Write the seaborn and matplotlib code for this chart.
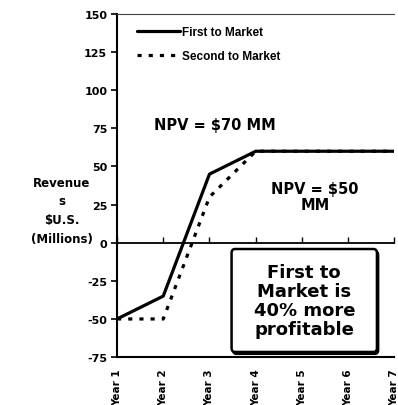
import matplotlib
matplotlib.use("Agg")
import matplotlib.pyplot as plt
from matplotlib.patches import FancyBboxPatch
import pandas as pd
import seaborn as sns

# Revenue path per year ($U.S. millions)
years = ["Year 1", "Year 2", "Year 3", "Year 4", "Year 5", "Year 6", "Year 7"]
first_to_market = [-50, -35, 45, 60, 60, 60, 60]
second_to_market = [-50, -50, 30, 60, 60, 60, 60]
series_names = ["First to Market", "Second to Market"]
y_ticks = [150, 125, 100, 75, 50, 25, 0, -25, -50, -75]
y_title_lines = ["Revenue", "s", "$U.S.", "(Millions)"]

df = pd.DataFrame({
    "Year": years * 2,
    "Revenue": first_to_market + second_to_market,
    "Series": [series_names[0]] * len(years) + [series_names[1]] * len(years),
})

sns.set_theme(style="white")
plt.rcParams["font.family"] = ["DejaVu Sans"]
plt.rcParams["text.color"] = "black"
plt.rcParams["xtick.color"] = "black"
plt.rcParams["ytick.color"] = "black"
plt.rcParams["axes.labelcolor"] = "black"

fig = plt.figure(figsize=(3.98, 4.06), dpi=100)
ax = fig.add_axes([0.294, 0.118, 0.697, 0.845])

sns.lineplot(
    data=df, x="Year", y="Revenue", hue="Series", style="Series",
    palette={series_names[0]: "black", series_names[1]: "black"},
    dashes={series_names[0]: "", series_names[1]: (1.3, 2.2)},
    linewidth=2.3, legend=False, ax=ax, sort=False,
)

ax.set_xlim(0, len(years) - 1)
ax.set_ylim(-75, 150)
ax.set_xlabel("")
ax.set_ylabel("")

# y axis
ax.set_yticks(y_ticks)
ax.set_yticklabels([str(v) for v in y_ticks], fontweight="bold", fontsize=8,
                   color="black")
ax.tick_params(axis="y", direction="out", length=4, width=1.2, pad=3,
               left=True, colors="black")

# category axis crossing at zero, ticks pointing up
ax.spines["bottom"].set_position(("data", 0))
ax.spines["bottom"].set_linewidth(1.3)
ax.spines["left"].set_linewidth(1.5)
ax.spines["right"].set_visible(False)
ax.spines["top"].set_linewidth(0.8)
ax.spines["top"].set_color("#444444")
for s in ["bottom", "left"]:
    ax.spines[s].set_color("black")
ax.set_xticks(range(len(years)))
ax.tick_params(axis="x", direction="in", length=4, width=1.0,
               bottom=True, labelbottom=False, colors="black")

# year labels along the bottom edge
sec = ax.secondary_xaxis(0.0)
sec.set_xticks(range(len(years)))
sec.set_xticklabels(years, rotation=90, fontweight="bold", fontsize=7.5,
                    va="top", ha="center", color="black")
sec.tick_params(axis="x", length=0, pad=8, colors="black")
sec.spines["bottom"].set_linewidth(1.5)
sec.spines["bottom"].set_color("black")

# legend
handles = ax.get_lines()[:2]
leg = ax.legend(handles, series_names, loc="upper left",
                bbox_to_anchor=(0.035, 0.995), frameon=False,
                handlelength=3.6, handletextpad=0.2, labelspacing=1.0,
                labelcolor="black",
                prop={"family": "Liberation Sans", "weight": "bold", "size": 8.5})

# axis title, one line at a time
for line, ypos in zip(y_title_lines, [0.510, 0.455, 0.401, 0.345]):
    ax.text(-0.2, ypos, line, transform=ax.transAxes,
            ha="center", va="center", fontsize=8.5, fontweight="bold",
            color="black")

# NPV annotations
ax.text(0.352, 0.679, "NPV = $70 MM", transform=ax.transAxes,
        ha="center", va="center", fontsize=10.5, fontweight="bold", color="black")
ax.text(0.714, 0.469, "NPV = $50\nMM", transform=ax.transAxes,
        ha="center", va="center", fontsize=10.5, fontweight="bold",
        linespacing=1.1, color="black")

# callout box
shadow = FancyBboxPatch((0.418, 0.009), 0.524, 0.30,
                        boxstyle="round,pad=0,rounding_size=0.012",
                        transform=ax.transAxes, fc="black", ec="black",
                        lw=1.5, zorder=5)
box = FancyBboxPatch((0.413, 0.015), 0.524, 0.30,
                     boxstyle="round,pad=0,rounding_size=0.012",
                     transform=ax.transAxes, fc="white", ec="black",
                     lw=1.8, zorder=6)
ax.add_patch(shadow)
ax.add_patch(box)
ax.text(0.675, 0.165, "First to\nMarket is\n40% more\nprofitable",
        transform=ax.transAxes, ha="center", va="center", fontsize=13,
        fontweight="heavy", linespacing=1.08, color="black", zorder=7)

fig.savefig("out.png", dpi=100)
